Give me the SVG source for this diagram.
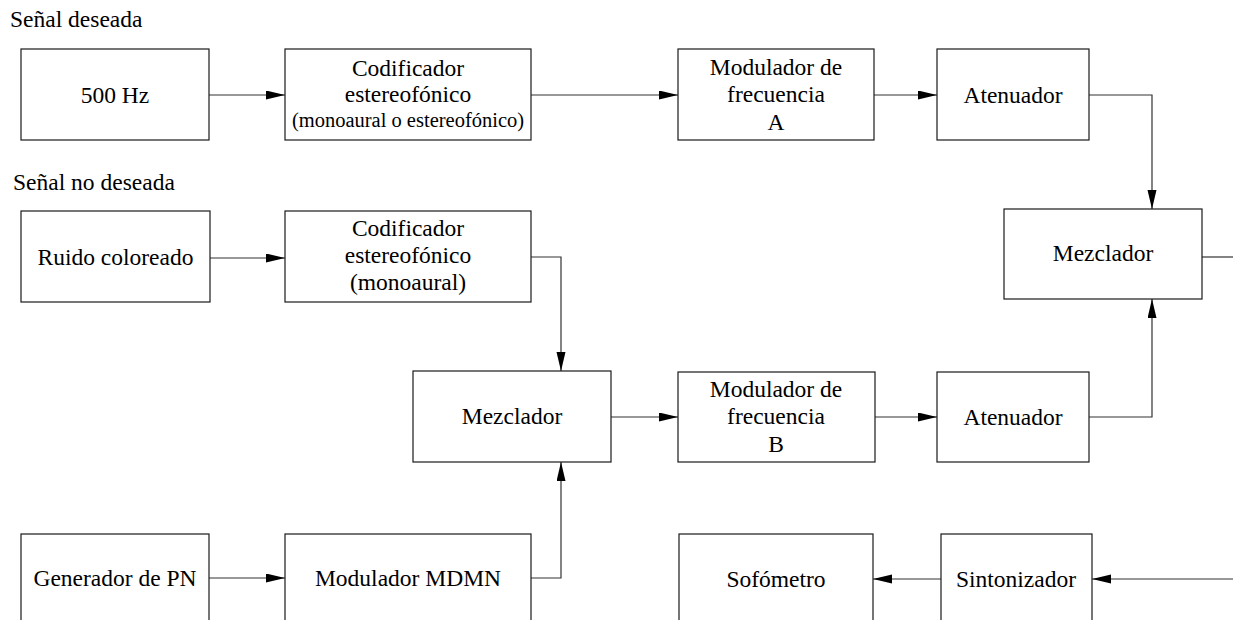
<svg xmlns="http://www.w3.org/2000/svg" width="1233" height="620" viewBox="0 0 1233 620">
  <style>
    .box { fill: #ffffff; stroke: #1a1a1a; stroke-width: 1.2; }
    .t { font-family: "Liberation Serif", "Times New Roman", serif; font-size: 23.5px; fill: #000; text-anchor: middle; }
    .ts { font-size: 20.5px; }
    .lbl { font-family: "Liberation Serif", "Times New Roman", serif; font-size: 23.5px; fill: #000; }
    .wire { fill: none; stroke: #333; stroke-width: 1.2; }
    .arr { marker-end: url(#head); }
  </style>
  <defs>
    <marker id="head" markerUnits="userSpaceOnUse" markerWidth="20" markerHeight="10" refX="19" refY="4.5" orient="auto">
      <path d="M0,0 L19,4.5 L0,9 Z" fill="#000"/>
    </marker>
  </defs>
  <rect width="1233" height="620" fill="#ffffff"/>

  <text class="lbl" x="10" y="27">Señal deseada</text>
  <text class="lbl" x="13" y="190">Señal no deseada</text>

  <!-- connectors -->
  <g id="connectors">
    <path class="wire arr" d="M209,95 H285"/>
    <path class="wire arr" d="M531,95 H678"/>
    <path class="wire arr" d="M874,95 H937"/>
    <path class="wire arr" d="M1089,95 H1152 V209"/>
    <path class="wire arr" d="M210,258 H285"/>
    <path class="wire arr" d="M531,257 H561 V371"/>
    <path class="wire arr" d="M611,417 H678"/>
    <path class="wire arr" d="M875,417 H937"/>
    <path class="wire arr" d="M1089,417 H1152 V299"/>
    <path class="wire" d="M1202,257 H1233"/>
    <path class="wire arr" d="M209,578 H285"/>
    <path class="wire arr" d="M531,578 H561 V462"/>
    <path class="wire arr" d="M1233,579 H1092"/>
    <path class="wire arr" d="M941,579 H873"/>
  </g>

  <!-- desired signal chain -->
  <g id="tono500">
    <rect class="box" x="21" y="49" width="188" height="91"/>
    <text class="t" x="115" y="103">500 Hz</text>
  </g>
  <g id="codificador1">
    <rect class="box" x="285" y="49" width="246" height="91"/>
    <text class="t" x="408" y="76">Codificador</text>
    <text class="t" x="408" y="102">estereofónico</text>
    <text class="t ts" x="408" y="127">(monoaural o estereofónico)</text>
  </g>
  <g id="moduladorA">
    <rect class="box" x="678" y="49" width="196" height="91"/>
    <text class="t" x="776" y="75">Modulador de</text>
    <text class="t" x="776" y="102">frecuencia</text>
    <text class="t" x="776" y="130">A</text>
  </g>
  <g id="atenuador1">
    <rect class="box" x="937" y="49" width="152" height="91"/>
    <text class="t" x="1013" y="103">Atenuador</text>
  </g>
  <g id="mezcladorFinal">
    <rect class="box" x="1004" y="209" width="198" height="90"/>
    <text class="t" x="1103" y="261">Mezclador</text>
  </g>

  <!-- unwanted signal chain -->
  <g id="ruido">
    <rect class="box" x="21" y="211" width="189" height="91"/>
    <text class="t" x="115.5" y="265">Ruido coloreado</text>
  </g>
  <g id="codificador2">
    <rect class="box" x="285" y="211" width="246" height="91"/>
    <text class="t" x="408" y="236">Codificador</text>
    <text class="t" x="408" y="263">estereofónico</text>
    <text class="t" x="408" y="290">(monoaural)</text>
  </g>
  <g id="mezclador">
    <rect class="box" x="413" y="371" width="198" height="91"/>
    <text class="t" x="512" y="424">Mezclador</text>
  </g>
  <g id="moduladorB">
    <rect class="box" x="678" y="372" width="197" height="90"/>
    <text class="t" x="776" y="397">Modulador de</text>
    <text class="t" x="776" y="424">frecuencia</text>
    <text class="t" x="776" y="452">B</text>
  </g>
  <g id="atenuador2">
    <rect class="box" x="937" y="372" width="152" height="90"/>
    <text class="t" x="1013" y="425">Atenuador</text>
  </g>

  <!-- bottom row -->
  <g id="generadorPN">
    <rect class="box" x="21" y="534" width="188" height="100"/>
    <text class="t" x="115" y="586">Generador de PN</text>
  </g>
  <g id="moduladorMDMN">
    <rect class="box" x="285" y="534" width="246" height="100"/>
    <text class="t" x="408" y="586">Modulador MDMN</text>
  </g>
  <g id="sofometro">
    <rect class="box" x="679" y="534" width="194" height="100"/>
    <text class="t" x="776" y="587">Sofómetro</text>
  </g>
  <g id="sintonizador">
    <rect class="box" x="941" y="534" width="151" height="100"/>
    <text class="t" x="1016" y="587">Sintonizador</text>
  </g>
</svg>
